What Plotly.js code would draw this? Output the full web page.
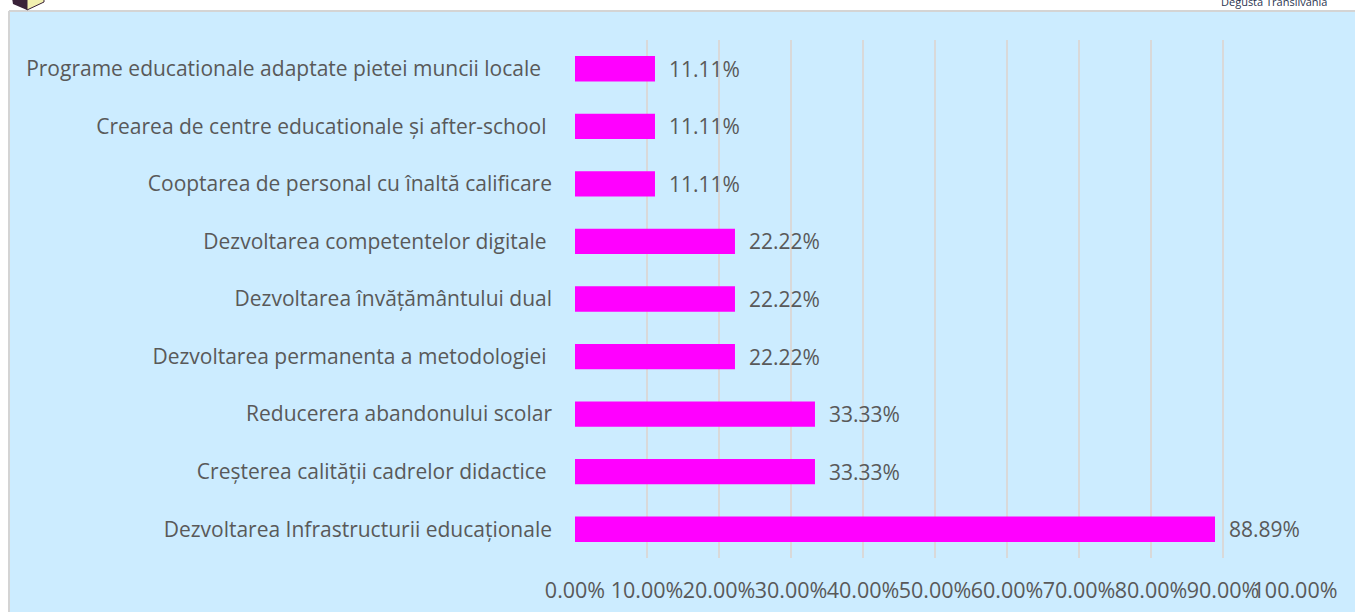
<!DOCTYPE html>
<html>
<head>
<meta charset="utf-8">
<script src="https://cdn.plot.ly/plotly-3.0.1.min.js"></script>
<style>html,body{margin:0;padding:0;background:#fff;}#chart{width:1355px;height:612px;}</style>
</head>
<body>
<div id="chart"></div>
<script>
// categories listed bottom-to-top (Plotly draws the first category at the bottom)
const categories = [
  "Dezvoltarea Infrastructurii educaționale",
  "Creșterea calității cadrelor didactice ",
  "Reducerera abandonului scolar",
  "Dezvoltarea permanenta a metodologiei ",
  "Dezvoltarea învățământului dual",
  "Dezvoltarea competentelor digitale ",
  "Cooptarea de personal cu înaltă calificare",
  "Crearea de centre educationale și after-school ",
  "Programe educationale adaptate pietei muncii locale  "
];
const values = [88.89, 33.33, 33.33, 22.22, 22.22, 22.22, 11.11, 11.11, 11.11];
const tickValues = [0, 10, 20, 30, 40, 50, 60, 70, 80, 90, 100];
const tickLabels = ["0.00%", "10.00%", "20.00%", "30.00%", "40.00%", "50.00%", "60.00%", "70.00%", "80.00%", "90.00%", "100.00%"];

const W = 1355, H = 612;
const L = 575, R = 60, T = 40, B = 54;
const pw = W - L - R, ph = H - T - B;
const px = x => (x - L) / pw;
const py = y => (H - B - y) / ph;

const FONT = "'Open Sans', sans-serif";
const GREY = "#595959";

const trace = {
  type: "bar",
  orientation: "h",
  y: categories,
  x: values,
  marker: {color: "#FF00FF"},
  width: 0.44,
  text: values.map(v => v.toFixed(2) + "%"),
  texttemplate: "  %{text}",
  textposition: "outside",
  constraintext: "none",
  textfont: {family: FONT, size: 21, color: GREY},
  cliponaxis: false,
  hoverinfo: "none"
};

const layout = {
  width: W, height: H,
  margin: {l: L, r: R, t: T, b: B, pad: 0},
  paper_bgcolor: "#ffffff",
  plot_bgcolor: "rgba(0,0,0,0)",
  showlegend: false,
  font: {family: FONT, size: 21, color: GREY},
  xaxis: {
    range: [0, 100],
    tickvals: tickValues,
    ticktext: tickLabels,
    tickangle: 0,
    showgrid: true, gridcolor: "#d9d9d9", gridwidth: 1.5,
    zeroline: false, showline: false, ticks: "",
    ticklabelstandoff: 17,
    tickfont: {family: FONT, size: 21.5, color: GREY},
    fixedrange: true
  },
  yaxis: {
    type: "category",
    showgrid: false, zeroline: false, showline: false, ticks: "",
    ticklabelstandoff: 22,
    tickfont: {family: FONT, size: 21, color: GREY},
    fixedrange: true
  },
  shapes: [
    {type: "rect", xref: "paper", yref: "paper", layer: "below",
     x0: px(9), x1: px(W + 5), y0: py(H + 5), y1: py(11),
     fillcolor: "#CCECFF", line: {width: 0}},
    {type: "line", xref: "paper", yref: "paper", layer: "below",
     x0: px(9), x1: px(W + 5), y0: py(11), y1: py(11),
     line: {color: "#d4d4d4", width: 2}},
    {type: "line", xref: "paper", yref: "paper", layer: "below",
     x0: px(9), x1: px(9), y0: py(11), y1: py(H + 5),
     line: {color: "#d4d4d4", width: 2}},
    {type: "path", xref: "paper", yref: "paper", layer: "above",
     path: `M ${px(12)} ${py(-2)} L ${px(27)} ${py(-2)} L ${px(27)} ${py(10)} L ${px(13)} ${py(4)} Z`,
     fillcolor: "#3a2238", line: {width: 0}},
    {type: "path", xref: "paper", yref: "paper", layer: "above",
     path: `M ${px(27)} ${py(-2)} L ${px(44)} ${py(-2)} L ${px(44)} ${py(2)} L ${px(27)} ${py(10)} Z`,
     fillcolor: "#f2f0b0", line: {color: "#3a2238", width: 1}}
  ],
  annotations: [
    {xref: "paper", yref: "paper", x: px(1274), y: py(1), xanchor: "center", yanchor: "middle",
     text: "Degusta Transilvania", showarrow: false,
     font: {family: "'Open Sans', sans-serif", size: 11, color: "#2b3550"}}
  ]
};

Plotly.newPlot("chart", [trace], layout, {displayModeBar: false, staticPlot: true});
</script>
</body>
</html>
